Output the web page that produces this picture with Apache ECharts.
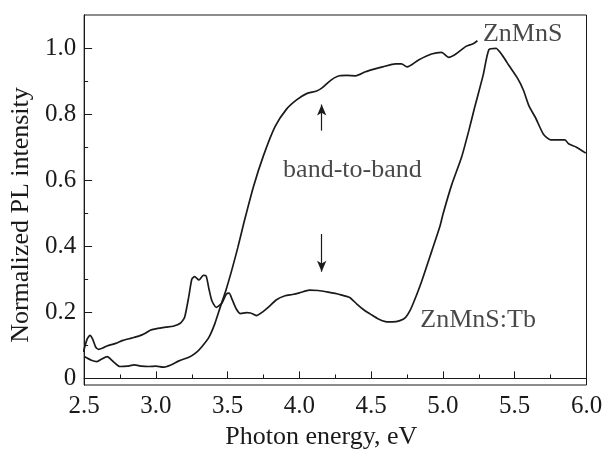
<!DOCTYPE html>
<html>
<head>
<meta charset="utf-8">
<script src="https://cdn.jsdelivr.net/npm/echarts@6/dist/echarts.min.js"></script>
<style>
  html, body { margin: 0; padding: 0; background: #fff; }
  #chart { width: 608px; height: 455px; }
</style>
</head>
<body>
<div id="chart"></div>
<script>
// PL spectra (photon energy in eV, normalized intensity)
const znmnsX = [2.50, 2.55, 2.59, 2.62, 2.66, 2.70, 2.75, 2.80, 2.85, 2.90, 2.95, 3.00, 3.05, 3.10, 3.16, 3.23, 3.28, 3.32, 3.37, 3.41, 3.45, 3.49, 3.53, 3.57, 3.61, 3.68, 3.75, 3.83, 3.91, 3.98, 4.05, 4.12, 4.16, 4.22, 4.28, 4.33, 4.39, 4.46, 4.52, 4.58, 4.67, 4.71, 4.75, 4.83, 4.92, 4.99, 5.04, 5.09, 5.16, 5.21, 5.24];
const znmnsY = [0.066, 0.055, 0.051, 0.058, 0.066, 0.052, 0.036, 0.037, 0.041, 0.037, 0.036, 0.037, 0.034, 0.040, 0.053, 0.064, 0.078, 0.096, 0.125, 0.165, 0.218, 0.270, 0.330, 0.395, 0.466, 0.581, 0.675, 0.762, 0.815, 0.843, 0.862, 0.870, 0.880, 0.903, 0.916, 0.917, 0.916, 0.928, 0.936, 0.943, 0.952, 0.952, 0.943, 0.964, 0.982, 0.987, 0.972, 0.982, 1.005, 1.013, 1.022];

const tbX = [2.495, 2.52, 2.54, 2.56, 2.58, 2.60, 2.63, 2.66, 2.72, 2.77, 2.83, 2.88, 2.92, 2.96, 3.00, 3.07, 3.12, 3.17, 3.20, 3.23, 3.25, 3.27, 3.30, 3.33, 3.35, 3.37, 3.39, 3.42, 3.46, 3.49, 3.51, 3.53, 3.56, 3.59, 3.63, 3.66, 3.70, 3.74, 3.79, 3.84, 3.90, 3.95, 4.00, 4.07, 4.13, 4.20, 4.28, 4.35, 4.40, 4.45, 4.50, 4.55, 4.60, 4.65, 4.70, 4.74, 4.77, 4.80, 4.85, 4.92, 4.98, 5.00, 5.06, 5.13, 5.18, 5.22, 5.28, 5.32, 5.37, 5.415, 5.46, 5.52, 5.56, 5.60, 5.645, 5.70, 5.75, 5.85, 5.875, 5.93, 5.995];
const tbY = [0.080, 0.118, 0.130, 0.118, 0.095, 0.088, 0.092, 0.098, 0.106, 0.115, 0.122, 0.128, 0.135, 0.146, 0.150, 0.155, 0.158, 0.167, 0.185, 0.250, 0.300, 0.308, 0.298, 0.312, 0.310, 0.270, 0.235, 0.215, 0.228, 0.255, 0.258, 0.240, 0.210, 0.196, 0.199, 0.198, 0.190, 0.200, 0.218, 0.238, 0.250, 0.254, 0.259, 0.267, 0.266, 0.261, 0.254, 0.245, 0.225, 0.207, 0.193, 0.180, 0.172, 0.171, 0.175, 0.185, 0.205, 0.235, 0.292, 0.383, 0.462, 0.497, 0.585, 0.670, 0.750, 0.819, 0.918, 0.995, 0.999, 0.977, 0.947, 0.908, 0.873, 0.824, 0.789, 0.739, 0.722, 0.722, 0.710, 0.700, 0.682];

// tick values
const yMajor = [0, 0.2, 0.4, 0.6, 0.8, 1.0];
const yMinor = [0.1, 0.3, 0.5, 0.7, 0.9];

// text notes (data coords) and the two arrows
const noteX = [5.555, 4.369, 5.245];
const noteY = [1.042, 0.631, 0.177];
const noteText = ["ZnMnS", "band-to-band", "ZnMnS:Tb"];
const arrowX = [4.155, 4.155];
const arrowFrom = [0.750, 0.437];
const arrowTo = [0.829, 0.323];

const FONT = "Liberation Serif";
const INK = "#1a1a1a";

const pairs = (xs, ys) => xs.map((x, i) => [x, ys[i]]);

const chart = echarts.init(document.getElementById("chart"));

const yBase = {
  type: "value",
  min: -0.02,
  max: 1.1,
  axisLine: { show: true, lineStyle: { color: INK, width: 1 } },
  splitLine: { show: false },
};

chart.setOption({
  animation: false,
  backgroundColor: "#fff",
  grid: {
    left: 79, right: 21.5, top: 15, bottom: 62.3,
    show: true, borderColor: INK, borderWidth: 1, backgroundColor: "transparent",
  },
  xAxis: {
    type: "value",
    min: 2.5,
    max: 6.0,
    interval: 0.5,
    name: "Photon energy, eV",
    nameLocation: "middle",
    nameGap: 39,
    nameTextStyle: { fontFamily: FONT, fontSize: 26, color: INK, padding: [0, 28, 0, 0] },
    axisLine: { lineStyle: { color: INK, width: 1 } },
    axisTick: { inside: true, length: 7, lineStyle: { color: INK } },
    minorTick: { show: true, splitNumber: 2, length: 4, lineStyle: { color: INK } },
    axisLabel: {
      fontFamily: FONT, fontSize: 25, color: INK, margin: 9,
      showMaxLabel: true, showMinLabel: true,
      formatter: (v) => v.toFixed(1),
    },
    splitLine: { show: false },
  },
  yAxis: [
    Object.assign({}, yBase, {
      name: "Normalized PL intensity",
      nameLocation: "middle",
      nameGap: 43,
      nameTextStyle: { fontFamily: FONT, fontSize: 26, color: INK, padding: [0, 30, 0, 0] },
      axisTick: { inside: true, length: 8, customValues: yMajor, lineStyle: { color: INK } },
      axisLabel: {
        fontFamily: FONT, fontSize: 25, color: INK, margin: 8,
        customValues: yMajor,
        formatter: (v) => (v === 0 ? "0" : v.toFixed(1)),
      },
    }),
    Object.assign({}, yBase, {
      position: "left",
      axisTick: { inside: true, length: 4, customValues: yMinor, lineStyle: { color: INK } },
      axisLabel: { show: false },
    }),
  ],
  series: [
    {
      name: "ZnMnS",
      type: "line",
      data: pairs(znmnsX, znmnsY),
      showSymbol: false,
      smooth: 0.25,
      lineStyle: { color: INK, width: 1.7 },
      silent: true,
    },
    {
      name: "ZnMnS:Tb",
      type: "line",
      data: pairs(tbX, tbY),
      showSymbol: false,
      smooth: 0.2,
      lineStyle: { color: INK, width: 1.7 },
      silent: true,
    },
    {
      name: "notes",
      type: "scatter",
      symbolSize: 0,
      silent: true,
      data: noteX.map((x, i) => [x, noteY[i], noteText[i]]),
      label: {
        show: true,
        position: "inside",
        formatter: (p) => p.value[2],
        fontFamily: FONT,
        fontSize: 26,
        color: INK,
      },
      markLine: {
        silent: true,
        symbol: ["none", "arrow"],
        symbolSize: [7, 11],
        label: { show: false },
        lineStyle: { color: INK, width: 1.2, type: "solid" },
        data: arrowX.map((x, i) => [
          { coord: [x, arrowFrom[i]] },
          { coord: [x, arrowTo[i]] },
        ]),
      },
    },
  ],
});
</script>
</body>
</html>
